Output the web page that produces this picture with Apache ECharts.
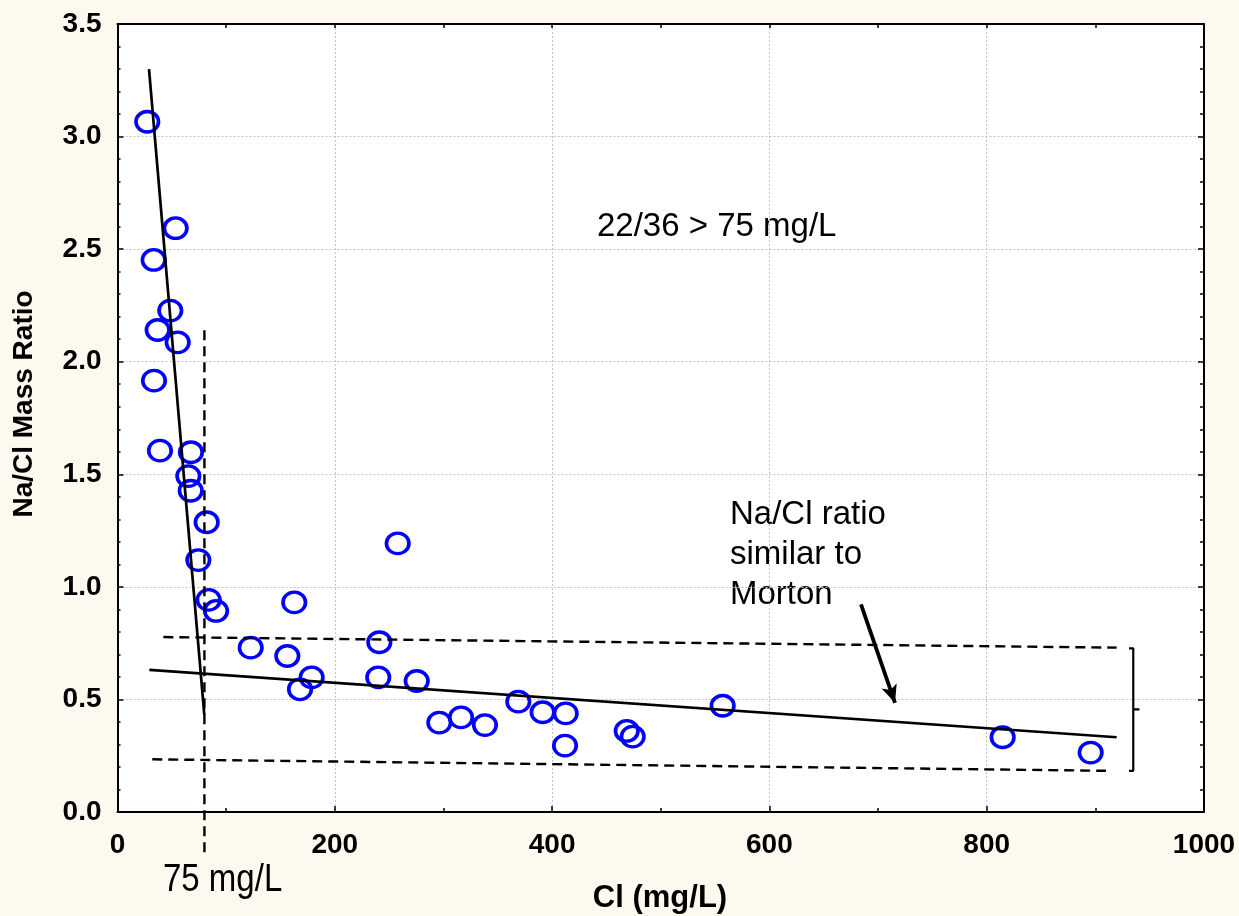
<!DOCTYPE html>
<html><head><meta charset="utf-8">
<script src="https://cdn.jsdelivr.net/npm/echarts@6/dist/echarts.min.js"></script>
<style>html,body{margin:0;padding:0;background:#fef9ee}#c{width:1239px;height:916px}</style>
</head><body><div id="c"></div>
<script>
// Cl (mg/L) and Na/Cl mass ratio of each sample
const clValues = [27.4, 53.5, 33.3, 48.6, 37.0, 55.4, 33.6, 39.1, 67.6, 65.2, 67.4, 82.1, 74.4, 83.9, 90.7,
  122.6, 156.3, 162.7, 168.0, 178.7, 241.0, 240.0, 257.9, 275.4, 296.2, 316.2, 338.2, 368.9, 391.3, 412.5,
  411.9, 468.7, 474.2, 557.0, 814.7, 895.7];
const ratioValues = [3.066, 2.593, 2.452, 2.227, 2.141, 2.086, 1.916, 1.605, 1.598, 1.492, 1.427, 1.287, 1.119, 0.942, 0.893,
  0.730, 0.693, 0.931, 0.545, 0.598, 0.754, 0.598, 1.193, 0.582, 0.397, 0.420, 0.386, 0.490, 0.443, 0.438,
  0.295, 0.360, 0.335, 0.472, 0.332, 0.264];
// fitted / drawn lines (endpoints in data units)
const steepLine = [[29.0, 3.30], [79.9, 0.431]];
const shallowLine = [[29.3, 0.631], [919.6, 0.332]];
const upperBand = [[42.2, 0.777], [919.6, 0.730]];
const lowerBand = [[32.0, 0.234], [909.8, 0.183]];
const cutoffLine = [[80, 2.14], [80, -0.19]];
const bracket = [[931, 0.727], [934.9, 0.727], [934.9, 0.456], [940.6, 0.456], [934.9, 0.456], [934.9, 0.183], [931, 0.183]];
const arrowFrom = [684.3, 0.922];
const arrowTo = [715.6, 0.485];
// axis ticks
const xMin = 0, xMax = 1000, xStep = 200;
const yMin = 0, yMax = 3.5, yStep = 0.5;
const yTickDecimals = 1;

const pts = clValues.map((v, i) => [v, ratioValues[i]]);
const chart = echarts.init(document.getElementById('c'), null, {renderer: 'canvas'});
const FONT = '"Liberation Sans", Arial, sans-serif';
const tickLabel = {color: '#000', fontSize: 28, fontWeight: 'bold', fontFamily: FONT};
const blackAxis = {show: true, onZero: false, lineStyle: {color: '#000', width: 2}};
const grid = {show: true, left: 117.5, top: 24, right: 35, bottom: 104, backgroundColor: '#ffffff', borderWidth: 0};
const gridLine = {show: true, lineStyle: {color: '#c4c4c4', width: 1, type: [2, 2]}};

function lineSeries(data, dashed, extra) {
  return Object.assign({
    type: 'line', data: data, symbol: 'none', silent: true, z: 5,
    lineStyle: {color: '#000', width: dashed ? 2.4 : 2.7, type: dashed ? [10, 6] : 'solid'},
    xAxisIndex: 0, yAxisIndex: 0
  }, extra || {});
}

chart.setOption({
  animation: false,
  backgroundColor: '#fef9ee',
  grid: grid,
  xAxis: [
    {type: 'value', position: 'bottom', min: xMin, max: xMax, interval: xStep,
      axisLine: blackAxis, axisTick: {show: true, inside: true, length: 6, lineStyle: {color: '#000', width: 1.5}},
      minorTick: {show: true, splitNumber: 2, length: 4, lineStyle: {color: '#000', width: 1.5}},
      axisLabel: Object.assign({margin: 19, formatter: v => String(v)}, tickLabel),
      splitLine: gridLine},
    {type: 'value', position: 'top', min: xMin, max: xMax, interval: xStep / 2,
      axisLine: blackAxis, axisTick: {show: true, inside: true, length: 4, lineStyle: {color: '#000', width: 1.5}},
      axisLabel: {show: false}, splitLine: {show: false}}
  ],
  yAxis: [
    {type: 'value', position: 'left', min: yMin, max: yMax, interval: yStep,
      axisLine: blackAxis, axisTick: {show: true, inside: true, length: 6, lineStyle: {color: '#000', width: 1.5}},
      minorTick: {show: true, splitNumber: 5, length: 3, lineStyle: {color: '#000', width: 1.5}},
      axisLabel: Object.assign({margin: 16, formatter: v => v.toFixed(yTickDecimals)}, tickLabel),
      splitLine: gridLine},
    {type: 'value', position: 'right', min: yMin, max: yMax, interval: yStep,
      axisLine: blackAxis, axisTick: {show: true, inside: true, length: 6, lineStyle: {color: '#000', width: 1.5}},
      minorTick: {show: true, splitNumber: 5, length: 4, lineStyle: {color: '#000', width: 1.5}},
      axisLabel: {show: false}, splitLine: {show: false}}
  ],
  series: [
    {type: 'scatter', data: pts, symbol: 'circle', symbolSize: [22.5, 20.5], z: 3,
      itemStyle: {color: 'rgba(0,0,0,0)', borderColor: '#0000ff', borderWidth: 3.5, opacity: 1},
      xAxisIndex: 0, yAxisIndex: 0, silent: true},
    lineSeries(steepLine, false),
    lineSeries(shallowLine, false),
    lineSeries(upperBand, true),
    lineSeries(lowerBand, true),
    lineSeries(cutoffLine, true, {clip: false}),
    lineSeries(bracket, false, {clip: false, lineStyle: {color: '#000', width: 2.2}}),
    {type: 'line', data: [], xAxisIndex: 0, yAxisIndex: 0, silent: true,
      markLine: {silent: true, symbol: ['none', 'arrow'], symbolSize: [12, 18], animation: false,
        label: {show: false}, lineStyle: {color: '#000', width: 3.8, type: 'solid'},
        data: [[{coord: arrowFrom}, {coord: arrowTo}]]}}
  ],
  graphic: [
    {type: 'text', x: 24, y: 404, rotation: Math.PI / 2,
      style: {text: 'Na/Cl Mass Ratio', font: 'bold 28px ' + FONT, fill: '#000', align: 'center', verticalAlign: 'middle'}},
    {type: 'text', x: 660, y: 898,
      style: {text: 'Cl (mg/L)', font: 'bold 31px ' + FONT, fill: '#000', align: 'center', verticalAlign: 'middle'}},
    {type: 'text', x: 597, y: 227,
      style: {text: '22/36 > 75 mg/L', font: '33px ' + FONT, fill: '#000', align: 'left', verticalAlign: 'middle'}},
    {type: 'text', x: 730, y: 515,
      style: {text: 'Na/Cl ratio', font: '33px ' + FONT, fill: '#000', align: 'left', verticalAlign: 'middle'}},
    {type: 'text', x: 730, y: 555,
      style: {text: 'similar to', font: '33px ' + FONT, fill: '#000', align: 'left', verticalAlign: 'middle'}},
    {type: 'text', x: 730, y: 595,
      style: {text: 'Morton', font: '33px ' + FONT, fill: '#000', align: 'left', verticalAlign: 'middle'}},
    {type: 'text', x: 163, y: 880.5, scaleY: 1.15,
      style: {text: '75 mg/L', font: '33px ' + FONT, fill: '#000', align: 'left', verticalAlign: 'middle'}}
  ]
});
</script></body></html>
